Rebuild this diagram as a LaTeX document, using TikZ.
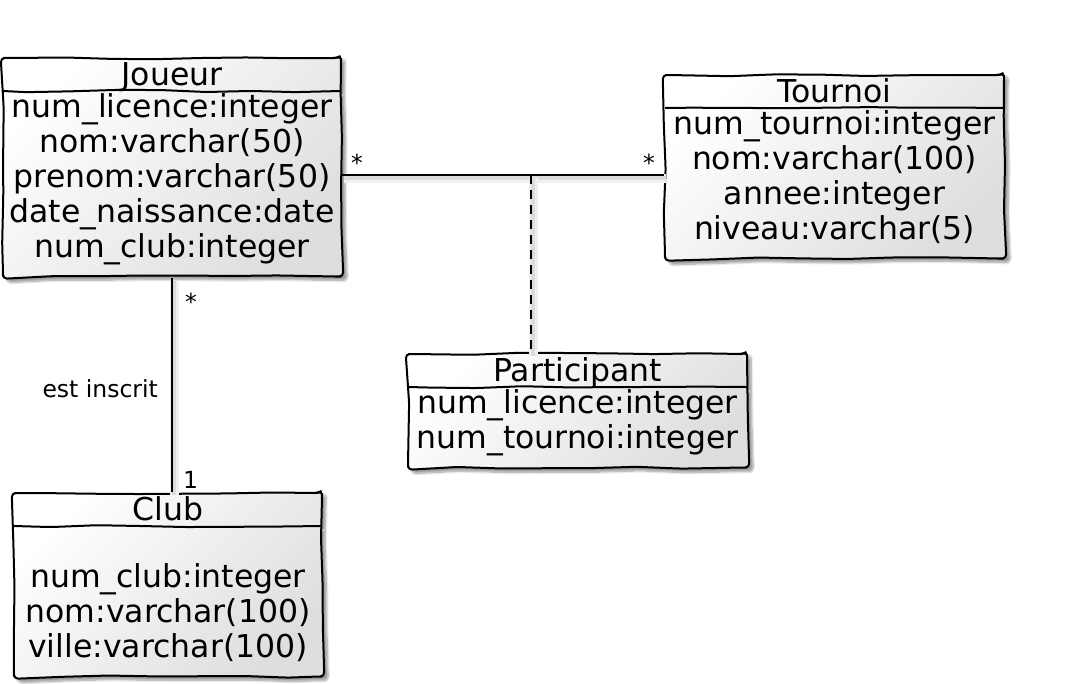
\documentclass[tikz,border=0pt]{standalone}
\usepackage{fontspec}
\setmainfont{DejaVu Sans}
\usetikzlibrary{shapes.multipart,shadows.blur,decorations.pathmorphing}

\newcommand{\titre}[1]{\rule[-4pt]{0pt}{29pt}\smash{#1}}
\newcommand{\dernier}{\rule[-17pt]{0pt}{0pt}}

\tikzset{
  classe/.style={rectangle split, rectangle split parts=2, draw, line width=2pt,
    align=center, anchor=north west, inner xsep=0pt, inner ysep=1pt,
    font=\fontsize{31.5}{35}\selectfont,
    top color=white, bottom color=black!13, shading angle=45,
    blur shadow={shadow xshift=4pt, shadow yshift=-4pt, shadow blur steps=8},
    decorate, decoration={random steps, segment length=45pt, amplitude=1.2pt},
    rounded corners=4pt},
  lien/.style={line width=2.2pt,
    preaction={draw, black!6, line width=9pt, transform canvas={shift={(2pt,-3pt)}}},
    preaction={draw, black!14, line width=4pt, transform canvas={shift={(2pt,-3pt)}}}},
  card/.style={font=\fontsize{23.5}{27}\selectfont, inner sep=2pt},
}

\begin{document}
\begin{tikzpicture}[x=1pt,y=-1pt]
\pgfmathsetseed{7}
\useasboundingbox (0,0) rectangle (1091,683);

\node[classe, minimum width=338pt] (joueur) at (2,57) {\titre{Joueur}
  \nodepart{two}\strut num\_licence:integer\\
  \strut nom:varchar(50)\\
  \strut prenom:varchar(50)\\
  \strut date\_naissance:date\\
  \strut num\_club:integer\dernier};

\node[classe, minimum width=339pt] (tournoi) at (664,74) {\titre{Tournoi}
  \nodepart{two}\strut num\_tournoi:integer\\
  \strut nom:varchar(100)\\
  \strut annee:integer\\
  \strut niveau:varchar(5)\dernier};

\node[classe, minimum width=339pt] (participant) at (407,353) {\titre{Participant}
  \nodepart{two}\strut num\_licence:integer\\
  \strut num\_tournoi:integer\dernier};

\node[classe, minimum width=308pt] (club) at (13,492) {\titre{Club}
  \nodepart{two}\strut\\
  \strut num\_club:integer\\
  \strut nom:varchar(100)\\
  \strut ville:varchar(100)\dernier};

% associations
\coordinate (mid) at (531,175);
\draw[lien] (joueur.east |- mid) --
  node[card, pos=0, above right, xshift=6pt] {*}
  node[card, pos=1, above left, xshift=-6pt] {*} (tournoi.west |- mid);
\draw[lien, dash pattern=on 9pt off 6pt] (mid) -- (participant.north -| mid);

\draw[lien] (joueur.south) --
  node[card, pos=0, below right, xshift=10pt, yshift=-12pt] {*}
  node[card, midway, left=11pt, yshift=-4pt] {est inscrit}
  node[card, pos=1, above right, xshift=8pt] {1} (joueur.south |- club.north);
\end{tikzpicture}
\end{document}
